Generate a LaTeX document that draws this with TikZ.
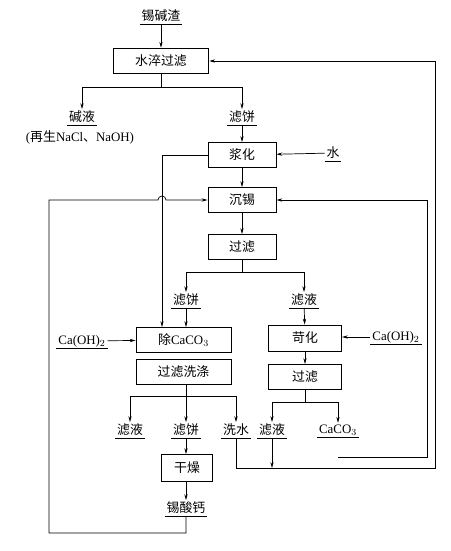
\documentclass[tikz,border=0pt]{standalone}
\usepackage{fontspec}
\setmainfont{Liberation Serif}
\newfontfamily\zh{Noto Sans CJK SC}
\usetikzlibrary{arrows.meta}

\begin{document}
\begin{tikzpicture}[x=0.03cm,y=-0.03cm,
  every node/.style={font=\fontsize{11}{13}\selectfont, inner sep=1.5pt},
  unit/.style={draw, line width=0.8pt, minimum height=0.75cm, inner sep=0pt},
  flow/.style={line width=0.6pt},
  feed/.style={flow, -{Stealth[length=5pt,width=2.8pt]}},
  uline/.style={line width=0.6pt}]
\useasboundingbox (0,0) rectangle (451,551);
% Leaching of the slag
\node (slag) at (161,16) {\zh 锡碱渣};
\node[unit, line width=1.3pt, minimum width=2.85cm] (quench) at (161,61) {\zh 水淬过滤};
\node (lye) at (82,117) {\zh 碱液};
\node (regen) at (80,137) {({\zh 再生}NaCl{\zh 、}NaOH)};
\node (cake1) at (242,117) {\zh 滤饼};
% Tin precipitation
\node[unit, minimum width=2.04cm] (slurry) at (242,155) {\zh 浆化};
\node (water) at (333,153) {\zh 水};
\node[unit, minimum width=2.04cm] (sink) at (242,200) {\zh 沉锡};
\node[unit, minimum width=2.04cm] (filt1) at (242,247) {\zh 过滤};
\node (cake2) at (186,300) {\zh 滤饼};
\node (liq2) at (304,300) {\zh 滤液};
% Left branch
\node[unit, minimum width=2.85cm] (decarb) at (183.5,340) {{\zh 除}CaCO$_3$};
\node (caoh1) at (82,341) {Ca(OH)$_2$};
\node[unit, minimum width=2.85cm] (wash) at (183.5,372) {\zh 过滤洗涤};
\node (liq3) at (130,430) {\zh 滤液};
\node (cake3) at (186,430) {\zh 滤饼};
\node (wwater) at (236,430) {\zh 洗水};
\node[unit, minimum width=1.53cm, minimum height=0.81cm] (dry) at (187,468) {\zh 干燥};
\node (stannate) at (186,508) {\zh 锡酸钙};
% Right branch
\node[unit, minimum width=2.19cm, minimum height=0.78cm] (caust) at (305,338) {\zh 苛化};
\node (caoh2) at (396,337) {Ca(OH)$_2$};
\node[unit, minimum width=2.19cm] (filt2) at (305,377) {\zh 过滤};
\node (liq4) at (272,430) {\zh 滤液};
\node (caco3) at (338,430) {CaCO$_3$};
% Underlines
\foreach \n in {slag,lye,cake1,water,cake2,liq2,caoh1,caoh2,liq3,cake3,wwater,liq4,caco3,stannate}
  \draw[uline] (\n.south west) -- (\n.south east);
% Connectors
\draw[feed] (slag) -- (quench);
\draw[flow] (quench.south) -- ++(0,13) coordinate (s1);
\draw[feed] (s1) -| (lye.north);
\draw[feed] (s1) -| (cake1.north);
\draw[feed] (cake1) -- (slurry);
\draw[feed] (water) -- (slurry);
\draw[feed] (slurry) -- (sink);
\draw[feed] (sink) -- (filt1);
\coordinate (jx) at (162,155);
\draw[feed] (slurry.west) -- (jx) -- (jx |- decarb.north);
% return of the product to tin precipitation
\coordinate (lb) at (49,533);
\draw[feed] (stannate.south) |- (lb) -- (49,200) -- (158,200)
  arc[start angle=180, end angle=0, radius=0.12cm] -- (sink.west);
\coordinate (cb) at (338,457);
\draw[feed] (cb) -- (427,457) -- (427,200) -- (sink.east);
\draw[flow] (filt1.south) -- ++(0,12) coordinate (s2);
\draw[feed] (s2) -| (cake2.north);
\draw[feed] (s2) -| (liq2.north);
\draw[feed] (cake2.south) -- (cake2.south |- decarb.north);
\draw[feed] (caoh1) -- (decarb);
\draw[flow] (wash.south -| cake3) -- ++(0,11) coordinate (s3);
\draw[feed] (s3) -| (liq3.north);
\draw[feed] (s3) -- (cake3.north);
\draw[feed] (s3) -| (wwater.north);
\draw[feed] (cake3.south) -- (cake3.south |- dry.north);
\draw[feed] (dry.south -| stannate) -- (stannate.north);
\draw[feed] (liq2) -- (caust);
\draw[feed] (caoh2.west) -- (caoh2.west -| caust.east);
\draw[feed] (caust) -- (filt2);
\draw[flow] (filt2.south) -- ++(0,12) coordinate (s4);
\draw[feed] (s4) -| (liq4.north);
\draw[feed] (s4) -| (caco3.north);
% wash water and filtrate back to quenching
\coordinate (rb) at (435,468);
\draw[feed] (wwater.south) |- (rb) -- (435,61) -- (quench.east);
\draw[feed] (liq4.south) -- (liq4.south |- rb);
\end{tikzpicture}
\end{document}
